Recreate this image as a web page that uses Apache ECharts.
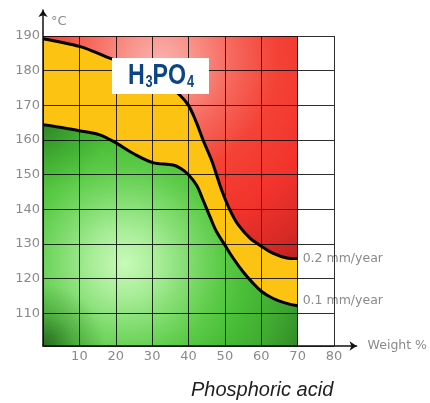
<!DOCTYPE html>
<html>
<head>
<meta charset="utf-8">
<script src="https://cdn.jsdelivr.net/npm/echarts@6/dist/echarts.min.js"></script>
<style>
  html, body { margin: 0; padding: 0; background: #fff; }
  #chart { width: 430px; height: 403px; }
</style>
</head>
<body>
<div id="chart"></div>
<script>
// Corrosion of stainless steel in phosphoric acid: iso-corrosion curves
// Weight % (x) against temperature in °C (y)

const upperName = '0.2 mm/year';
const upperX = [0, 5, 10, 14, 18.3, 22, 26, 30, 34, 37.6, 40, 42, 44, 46.3, 47.7, 49.1, 51.4, 53.7, 56.9, 60, 63.3, 67, 70];
const upperT = [189.2, 188.2, 187.0, 185.5, 183.6, 182.4, 180.8, 178.8, 176.2, 173.0, 170.0, 165.5, 160.0, 154.3, 150.0, 145.6, 139.8, 135.5, 131.7, 129.4, 127.3, 126.0, 125.8];

const lowerName = '0.1 mm/year';
const lowerX = [0, 5, 10, 15.6, 20.2, 24.7, 30.2, 35.8, 38, 40, 42.2, 44, 45.9, 47.7, 50, 52.3, 55, 57.4, 60, 63.3, 67, 70];
const lowerT = [164.4, 163.6, 162.7, 161.5, 159.1, 156.2, 153.5, 152.8, 151.7, 150.0, 147.0, 142.7, 137.9, 133.6, 129.7, 125.9, 122.0, 119.1, 116.4, 114.3, 112.9, 112.2];

// the coloured field covers 0–70 % up to 190 °C
const fieldX = [0, 70];
const fieldT = [190, 190];

const tempMin = 100.6;
const tempMax = 190;
const weightMax = 80;

const zip = (xs, ys) => xs.map((x, i) => [x, ys[i]]);

const labelColor = '#8a8a8a';
const labelFont = 'DejaVu Sans';
const gridColor = 'rgba(0,0,0,0.82)';
const formulaColor = '#0b4587';

// soft darkening of the green field towards a corner
const cornerShade = (x, y, r, alpha) => ({
  type: 'line',
  xAxisIndex: 0, yAxisIndex: 0,
  data: zip(lowerX, lowerT),
  smooth: 0.35,
  showSymbol: false,
  silent: true,
  z: 4,
  lineStyle: { width: 0 },
  areaStyle: {
    origin: 'start',
    opacity: 1,
    color: {
      type: 'radial', x: x, y: y, r: r,
      colorStops: [
        { offset: 0, color: 'rgba(22,70,22,' + alpha + ')' },
        { offset: 0.5, color: 'rgba(22,70,22,' + (alpha * 0.35) + ')' },
        { offset: 1, color: 'rgba(22,70,22,0)' }
      ]
    }
  }
});

const chart = echarts.init(document.getElementById('chart'), null, { renderer: 'canvas' });

chart.setOption({
  animation: false,
  backgroundColor: '#fff',
  title: {
    text: 'Phosphoric acid',
    left: 191,
    top: 380,
    padding: 0,
    textStyle: {
      fontFamily: 'Liberation Sans',
      fontStyle: 'italic',
      fontWeight: 'normal',
      fontSize: 20,
      color: '#1e1e1e'
    }
  },
  grid: [
    { left: 43, right: 96, top: 36, bottom: 57 },
    { left: 43, right: 67, top: 10, bottom: 57 }
  ],
  xAxis: [
    {
      type: 'value', gridIndex: 0, min: 0, max: weightMax, interval: 10, z: 5,
      axisLine: { show: false },
      axisTick: { show: false },
      axisLabel: { showMinLabel: false, color: labelColor, fontSize: 13, fontFamily: labelFont, margin: 4 },
      splitLine: { show: true, lineStyle: { color: gridColor, width: 1 } }
    },
    {
      type: 'value', gridIndex: 1, min: 0, max: 1, z: 6,
      axisLine: {
        show: true, onZero: false, symbol: ['none', 'arrow'], symbolSize: [7, 7],
        lineStyle: { color: '#111', width: 1.5 }
      },
      axisTick: { show: false }, axisLabel: { show: false }, splitLine: { show: false },
      name: 'Weight %', nameLocation: 'end', nameGap: 11,
      nameTextStyle: { color: labelColor, fontSize: 12.5, fontFamily: labelFont, padding: [0, 0, 14, 0] }
    }
  ],
  yAxis: [
    {
      type: 'value', gridIndex: 0, min: tempMin, max: tempMax, splitNumber: 9,
      minInterval: 10, maxInterval: 10, z: 5,
      axisLine: { show: false },
      axisTick: { show: false },
      axisLabel: { showMinLabel: false, color: labelColor, fontSize: 13, fontFamily: labelFont, margin: 3 },
      splitLine: { show: true, lineStyle: { color: gridColor, width: 1 } }
    },
    {
      type: 'value', gridIndex: 1, min: 0, max: 1, z: 6,
      axisLine: {
        show: true, onZero: false, symbol: ['none', 'arrow'], symbolSize: [7, 7],
        lineStyle: { color: '#111', width: 1.5 }
      },
      axisTick: { show: false }, axisLabel: { show: false }, splitLine: { show: false },
      name: '°C', nameLocation: 'end', nameGap: -18,
      nameTextStyle: { color: labelColor, fontSize: 13, fontFamily: labelFont, align: 'left', padding: [0, 0, 0, 8] }
    }
  ],
  series: [
    {
      name: 'field',
      type: 'line',
      xAxisIndex: 0, yAxisIndex: 0,
      data: zip(fieldX, fieldT),
      showSymbol: false,
      silent: true,
      z: 1,
      lineStyle: { width: 0 },
      areaStyle: {
        origin: 'start',
        opacity: 1,
        color: {
          type: 'radial', x: 0.46, y: 0.08, r: 1.2,
          colorStops: [
            { offset: 0, color: '#fbb0ae' },
            { offset: 0.1, color: '#f9968e' },
            { offset: 0.24, color: '#f6675c' },
            { offset: 0.38, color: '#f44236' },
            { offset: 0.55, color: '#f2332c' },
            { offset: 0.7, color: '#d92a26' },
            { offset: 0.82, color: '#b02020' },
            { offset: 1, color: '#8e1818' }
          ]
        }
      }
    },
    {
      name: upperName,
      type: 'line',
      xAxisIndex: 0, yAxisIndex: 0,
      data: zip(upperX, upperT),
      smooth: 0.35,
      showSymbol: false,
      silent: true,
      z: 2,
      lineStyle: { color: '#000', width: 3 },
      areaStyle: { origin: 'start', opacity: 1, color: '#fdc312' },
      endLabel: {
        show: true, formatter: '{a}', color: labelColor, fontSize: 12.5, fontFamily: labelFont, distance: 5
      }
    },
    {
      name: lowerName,
      type: 'line',
      xAxisIndex: 0, yAxisIndex: 0,
      data: zip(lowerX, lowerT),
      smooth: 0.35,
      showSymbol: false,
      silent: true,
      z: 3,
      lineStyle: { color: '#000', width: 3 },
      areaStyle: {
        origin: 'start',
        opacity: 1,
        color: {
          type: 'radial', x: 0.322, y: 0.625, r: 1.086,
          colorStops: [
            { offset: 0, color: '#c8fab8' },
            { offset: 0.146, color: '#a6ec96' },
            { offset: 0.27, color: '#80dc6e' },
            { offset: 0.4, color: '#5ccb48' },
            { offset: 0.52, color: '#48bd36' },
            { offset: 0.67, color: '#3fa830' },
            { offset: 0.83, color: '#2f8526' },
            { offset: 1, color: '#256b1f' }
          ]
        }
      },
      endLabel: {
        show: true, formatter: '{a}', color: labelColor, fontSize: 12.5, fontFamily: labelFont, distance: 5,
        offset: [0, -5]
      }
    },
    Object.assign({ name: 'shade-bottom' }, cornerShade(0, 1, 0.28, 0.7)),
    Object.assign({ name: 'shade-top' }, cornerShade(0, 0, 0.3, 0.35))
  ],
  graphic: {
    elements: [
      {
        type: 'rect',
        z: 100,
        x: 112,
        y: 58,
        shape: { x: 0, y: 0, width: 97, height: 36 },
        style: { fill: '#ffffff' }
      },
      {
        type: 'text',
        z: 101,
        x: 161,
        y: 76,
        scaleX: 0.8,
        style: {
          text: '{b|H}{s|3}{b|PO}{s|4}',
          align: 'center',
          verticalAlign: 'middle',
          rich: {
            b: { fontFamily: 'Liberation Sans', fontWeight: 'bold', fontSize: 29, lineHeight: 30, fill: formulaColor },
            s: { fontFamily: 'Liberation Sans', fontWeight: 'bold', fontSize: 16, lineHeight: 16, fill: formulaColor, padding: [13, 0, 0, 1] }
          }
        }
      }
    ]
  }
});
</script>
</body>
</html>
